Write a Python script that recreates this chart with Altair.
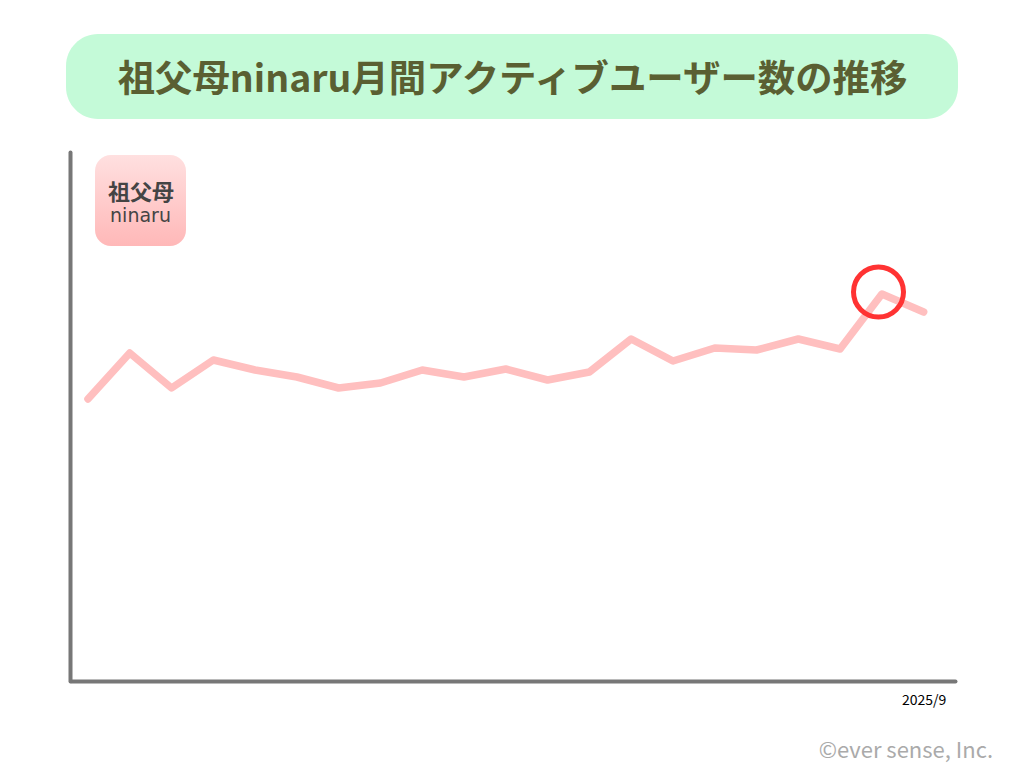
import altair as alt
import pandas as pd

months = ["2024/1","2024/2","2024/3","2024/4","2024/5","2024/6","2024/7","2024/8","2024/9","2024/10","2024/11","2024/12",
          "2025/1","2025/2","2025/3","2025/4","2025/5","2025/6","2025/7","2025/8","2025/9"]
index = list(range(len(months)))
users = [282, 328, 293, 321, 311, 304, 293, 298, 311, 304, 312, 301, 309, 342, 320, 333, 331, 342, 332, 387, 369]
title_text = "祖父母ninaru月間アクティブユーザー数の推移"
logo_top = "祖父母"
logo_bottom = "ninaru"
credit = "©ever sense, Inc."
last_label = "2025/9"

W, H = 884, 529
JP = "Noto Sans CJK JP"
data = pd.DataFrame({"i": index, "month": months, "users": users})
x_scale = alt.Scale(domain=[-0.406, 20.75], nice=False, zero=False)
y_scale = alt.Scale(domain=[0, 529], nice=False)

line = alt.Chart(data).mark_line(color="#FFBFBF", strokeWidth=7.5, strokeCap="round", strokeJoin="round").encode(
    x=alt.X("i:Q", scale=x_scale, axis=alt.Axis(
        title=None, values=[20], labelExpr=f"'{last_label}'", ticks=False, grid=False,
        domainColor="#777777", domainWidth=4, domainCap="round",
        labelFont=JP, labelFontSize=14, labelColor="#000000", labelPadding=12)),
    y=alt.Y("users:Q", scale=y_scale, axis=alt.Axis(
        title=None, labels=False, ticks=False, grid=False, offset=1,
        domainColor="#777777", domainWidth=4, domainCap="round")),
)

def one():
    return alt.Chart(pd.DataFrame({"a": [0]}))

pill = one().mark_rect(color="#C4FAD8", cornerRadius=32).encode(
    x=alt.value(-5), x2=alt.value(887), y=alt.value(-118), y2=alt.value(-33))
title = one().mark_text(text=title_text, font=JP, fontSize=37.4, fontWeight=700, color="#5A5F32", align="center", baseline="middle").encode(
    x=alt.value(441.5), y=alt.value(-71))
logo = one().mark_rect(
    cornerRadius=16,
    color=alt.Gradient(gradient="linear", x1=0, y1=0, x2=0, y2=1,
                       stops=[alt.GradientStop(color="#FFE0E0", offset=0), alt.GradientStop(color="#FFB8B8", offset=1)]),
).encode(x=alt.value(24), x2=alt.value(115), y=alt.value(3), y2=alt.value(94))
logo1 = one().mark_text(text=logo_top, font=JP, fontSize=22, fontWeight=700, color="#444444", align="center", baseline="middle").encode(
    x=alt.value(70), y=alt.value(41))
logo2 = one().mark_text(text=logo_bottom, font="DejaVu Sans", fontSize=19, color="#444444", align="center", baseline="middle").encode(
    x=alt.value(69.5), y=alt.value(64))
circle = one().mark_point(shape="circle", filled=False, color="#FF3333", strokeWidth=5, size=2500, opacity=1).encode(
    x=alt.value(807.5), y=alt.value(140))
copy = one().mark_text(text=credit, font=JP, fontSize=22, fontWeight=400, color="#AAAAAA", align="right", baseline="middle").encode(
    x=alt.value(922), y=alt.value(599))

chart = alt.layer(pill, title, logo, logo1, logo2, line, circle, copy).properties(
    width=W, height=H,
    padding={"left": 63, "top": 144, "right": 61, "bottom": 83},
    autosize=alt.AutoSizeParams(type="none"),
    background="#FFFFFF",
).configure_view(stroke=None)

chart.save("out.html", embed_options={"renderer": "svg", "actions": False})
